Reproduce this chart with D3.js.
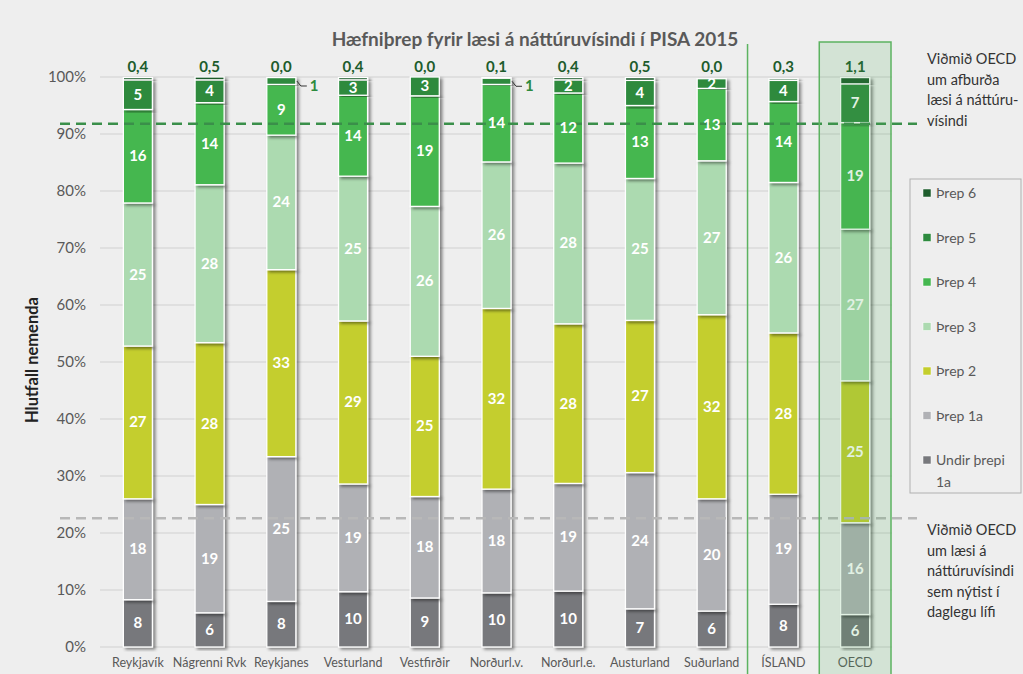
<!DOCTYPE html>
<html>
<head>
<meta charset="utf-8">
<script src="https://cdn.jsdelivr.net/npm/d3@7"></script>
<style>
  body { margin: 0; background: #eeeeee; }
  svg { display: block; font-family: Lato, 'Open Sans', sans-serif; }
</style>
</head>
<body>
<div id="chart"></div>
<script>
const categories = ['Reykjavík', 'Nágrenni Rvk', 'Reykjanes', 'Vesturland', 'Vestfirðir', 'Norðurl.v.', 'Norðurl.e.', 'Austurland', 'Suðurland', 'ÍSLAND', 'OECD']
const levels = ['Undir þrepi 1a', 'Þrep 1a', 'Þrep 2', 'Þrep 3', 'Þrep 4', 'Þrep 5', 'Þrep 6']

// share of students (%) per level, bottom to top
const undir1a = [8.3, 6.0, 8.0, 9.7, 8.6, 9.5, 9.8, 6.7, 6.3, 7.5, 5.7]
const threp1a = [17.7, 19.0, 25.4, 18.9, 17.8, 18.2, 18.9, 23.9, 19.7, 19.3, 16.1]
const threp2 = [26.8, 28.4, 32.8, 28.6, 24.6, 31.7, 28.0, 26.7, 32.3, 28.3, 24.9]
const threp3 = [25.1, 27.7, 23.6, 25.4, 26.3, 25.7, 28.2, 24.9, 27.0, 26.4, 26.6]
const threp4 = [16.4, 14.4, 8.9, 14.2, 19.4, 13.6, 12.3, 12.8, 12.7, 14.2, 18.7]
const threp5 = [5.2, 4.0, 1.2, 2.7, 3.3, 1.1, 2.3, 4.4, 1.7, 3.7, 6.8]
const threp6 = [0.4, 0.5, 0.0, 0.4, 0.0, 0.1, 0.4, 0.5, 0.0, 0.3, 1.1]

const yTicks = [0, 10, 20, 30, 40, 50, 60, 70, 80, 90, 100]
const topBenchmark = 91.8
const baseBenchmark = 22.6
const topNote = ['Viðmið OECD', 'um afburða', 'læsi á náttúru-', 'vísindi']
const baseNote = ['Viðmið OECD', 'um læsi á', 'náttúruvísindi', 'sem nýtist í', 'daglegu lífi']

const colors = ['#77787c', '#b0b1b5', '#c4ce2d', '#acdab0', '#44b74f', '#2d8a3e', '#1d5c2c']

const width = 1023
const height = 674

const series = [undir1a, threp1a, threp2, threp3, threp4, threp5, threp6]
const rows = categories.map((c, i) => {
  const row = { cat: c }
  levels.forEach((l, j) => { row[l] = series[j][i] })
  return row
})
const stacked = d3.stack().keys(levels)(rows)

const comma = v => d3.format('.1f')(v).replace('.', ',')

const svg = d3.select('#chart').append('svg')
  .attr('width', width)
  .attr('height', height)

const defs = svg.append('defs')
const shadow = defs.append('filter').attr('id', 'shadow')
  .attr('x', '-30%').attr('y', '-10%').attr('width', '160%').attr('height', '120%')
shadow.append('feDropShadow')
  .attr('dx', 2.5).attr('dy', 2).attr('stdDeviation', 1.6)
  .attr('flood-color', '#000').attr('flood-opacity', 0.45)

svg.append('rect').attr('width', width).attr('height', height).attr('fill', '#eeeeee')

const x = d3.scaleBand()
  .domain(categories)
  .range([102, 891])
  .paddingInner(0.595)
  .paddingOuter(0.2975)

const y = d3.scaleLinear()
  .domain([0, 100])
  .range([647, 77])

// gridlines
svg.append('g')
  .selectAll('line')
  .data(yTicks)
  .enter().append('line')
  .attr('x1', 100).attr('x2', 892)
  .attr('y1', d => y(d)).attr('y2', d => y(d))
  .attr('stroke', '#dadada')
  .attr('stroke-width', 1.3)

// y axis
const yAxis = svg.append('g')
  .attr('transform', 'translate(86,0)')
  .call(d3.axisLeft(y).tickValues(yTicks).tickFormat(d => d + '%').tickSize(0).tickPadding(0))
yAxis.select('.domain').remove()
yAxis.selectAll('text')
  .attr('fill', '#595959')
  .style('font-size', '15px')
  .style('font-family', 'Lato, sans-serif')

svg.append('text')
  .attr('transform', 'translate(38,360) rotate(-90)')
  .attr('text-anchor', 'middle')
  .attr('fill', '#222')
  .style('font-size', '16.5px')
  .style('font-weight', 'bold')
  .text('Hlutfall nemenda')

// x axis
const xAxis = svg.append('g')
  .attr('transform', 'translate(0,652)')
  .call(d3.axisBottom(x).tickSize(0).tickPadding(6))
xAxis.select('.domain').remove()
xAxis.selectAll('text')
  .attr('fill', '#595959')
  .style('font-size', '12.5px')
  .style('font-family', 'Lato, sans-serif')

// separator before ÍSLAND
const sepX = x('ÍSLAND') - x.step() * x.paddingInner() / 2
svg.append('line')
  .attr('x1', sepX).attr('x2', sepX)
  .attr('y1', 44).attr('y2', height)
  .attr('stroke', '#5cb360')
  .attr('stroke-width', 1.5)

// title
svg.append('text')
  .attr('x', 535).attr('y', 46)
  .attr('text-anchor', 'middle')
  .attr('fill', '#595959')
  .style('font-size', '19px')
  .style('font-weight', 'bold')
  .text('Hæfniþrep fyrir læsi á náttúruvísindi í PISA 2015')

// bars
const layers = svg.append('g')
  .selectAll('g')
  .data(stacked)
  .enter().append('g')
  .attr('fill', (d, i) => colors[i])

layers.selectAll('rect')
  .data(d => d)
  .enter().append('rect')
  .attr('x', d => x(d.data.cat))
  .attr('width', x.bandwidth())
  .attr('y', d => y(d[1]))
  .attr('height', d => y(d[0]) - y(d[1]))
  .attr('stroke', '#fff')
  .attr('stroke-width', 1.3)
  .attr('filter', 'url(#shadow)')

// benchmark lines
svg.append('line')
  .attr('x1', 60).attr('x2', 917)
  .attr('y1', y(topBenchmark)).attr('y2', y(topBenchmark))
  .attr('stroke', '#3a8f4a')
  .attr('stroke-width', 2.5)
  .attr('stroke-dasharray', '10,6')
svg.append('line')
  .attr('x1', 60).attr('x2', 917)
  .attr('y1', y(baseBenchmark)).attr('y2', y(baseBenchmark))
  .attr('stroke', '#b8b8b8')
  .attr('stroke-width', 2.5)
  .attr('stroke-dasharray', '10,6')

// white value labels inside segments (levels below Þrep 6)
stacked.slice(0, 6).forEach(layer => {
  svg.append('g')
    .selectAll('text')
    .data(layer.filter(d => d.data[layer.key] >= 1.5))
    .enter().append('text')
    .attr('x', d => x(d.data.cat) + x.bandwidth() / 2)
    .attr('y', d => y((d[0] + d[1]) / 2) + 5)
    .attr('text-anchor', 'middle')
    .attr('fill', '#fff')
    .style('font-size', '15px')
    .style('font-weight', 'bold')
    .text(d => Math.round(d.data[layer.key]))
})

// small Þrep 5 values as callouts to the right
const small5 = stacked[5].filter(d => d.data['Þrep 5'] < 1.5)
const callout = svg.append('g').selectAll('g')
  .data(small5)
  .enter().append('g')
callout.append('path')
  .attr('d', d => {
    const x0 = x(d.data.cat) + x.bandwidth() + 1
    const y0 = y((d[0] + d[1]) / 2)
    return `M${x0},${y0} L${x0 + 4},${y0 + 5} L${x0 + 10},${y0 + 5}`
  })
  .attr('fill', 'none')
  .attr('stroke', '#333')
  .attr('stroke-width', 1)
callout.append('text')
  .attr('x', d => x(d.data.cat) + x.bandwidth() + 14)
  .attr('y', d => y((d[0] + d[1]) / 2) + 10)
  .attr('fill', '#2d8a3e')
  .style('font-size', '15px')
  .style('font-weight', 'bold')
  .text(d => Math.round(d.data['Þrep 5']))

// Þrep 6 values above bars
svg.append('g')
  .selectAll('text')
  .data(stacked[6])
  .enter().append('text')
  .attr('x', d => x(d.data.cat) + x.bandwidth() / 2)
  .attr('y', y(100) - 5)
  .attr('text-anchor', 'middle')
  .attr('fill', '#1d5c2c')
  .style('font-size', '15px')
  .style('font-weight', 'bold')
  .text(d => comma(d.data['Þrep 6']))

// OECD highlight band
const bandX = x('OECD') - x.step() * x.paddingInner() / 2
svg.append('rect')
  .attr('x', bandX).attr('y', 42)
  .attr('width', x.step()).attr('height', height - 42 + 2)
  .attr('fill', '#4fae5a')
  .attr('fill-opacity', 0.17)
  .attr('stroke', '#5cb360')
  .attr('stroke-width', 1.5)

// notes
const note = (lines, top) => svg.append('text')
  .attr('fill', '#333')
  .style('font-size', '14.5px')
  .selectAll('tspan')
  .data(lines)
  .enter().append('tspan')
  .attr('x', 927)
  .attr('y', (d, i) => top + i * 20.5)
  .text(d => d)
note(topNote, 64)
note(baseNote, 535)

// legend
svg.append('rect')
  .attr('x', 910).attr('y', 179)
  .attr('width', 111).attr('height', 314)
  .attr('fill', 'none')
  .attr('stroke', '#b0b0b0')
  .attr('stroke-width', 1)

const legendItems = levels.slice().reverse()
const legendColors = colors.slice().reverse()
const legend = svg.append('g')
  .selectAll('g')
  .data(legendItems)
  .enter().append('g')
  .attr('transform', (d, i) => `translate(923,${193 + i * 44.5})`)
legend.append('rect')
  .attr('x', 0).attr('y', -4)
  .attr('width', 8).attr('height', 8)
  .attr('fill', (d, i) => legendColors[i])
  .attr('stroke', '#fff')
  .attr('stroke-width', 0.5)
legend.append('text')
  .attr('fill', '#595959')
  .style('font-size', '14px')
  .selectAll('tspan')
  .data(d => d === 'Undir þrepi 1a' ? ['Undir þrepi', '1a'] : [d])
  .enter().append('tspan')
  .attr('x', 13)
  .attr('y', (d, i) => 5 + i * 22)
  .text(d => d)
</script>
</body>
</html>
